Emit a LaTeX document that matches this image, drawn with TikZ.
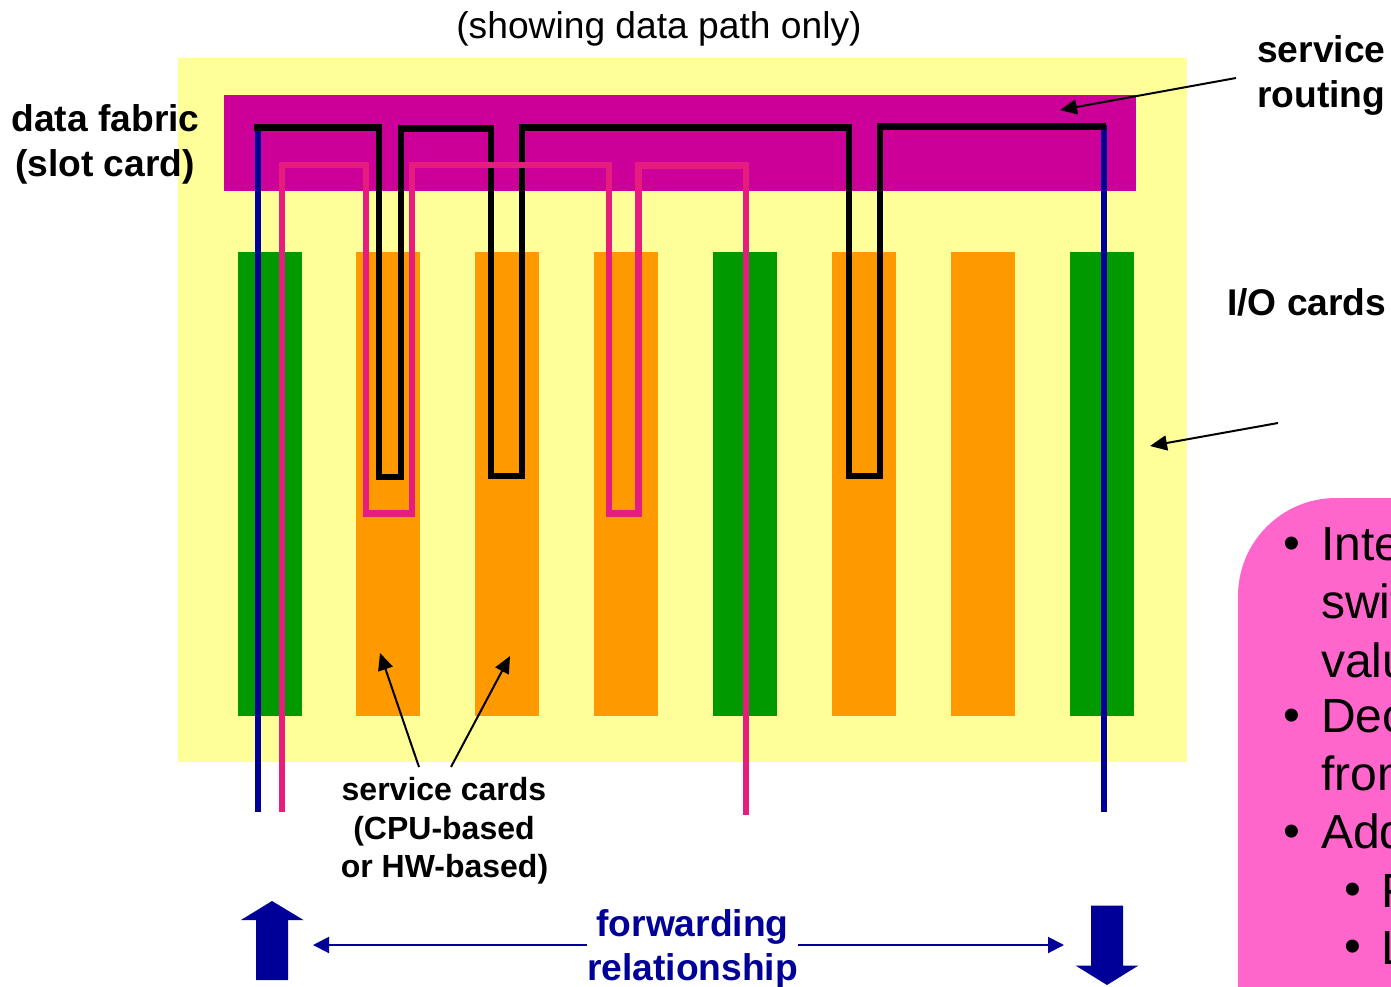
\documentclass[tikz,border=0pt]{standalone}
\usepackage{fontspec}
\setmainfont{Liberation Sans}
\usetikzlibrary{arrows.meta}
\definecolor{chassis}{HTML}{FFFF99}
\definecolor{fabric}{HTML}{CC0099}
\definecolor{iocard}{HTML}{009900}
\definecolor{svccard}{HTML}{FF9900}
\definecolor{navyline}{HTML}{000099}
\definecolor{rosepath}{HTML}{E61C7E}
\definecolor{notepink}{HTML}{FF66CC}
\tikzset{
  x=1pt,y=-1pt,
  cardbox/.style={minimum width=64pt,minimum height=464pt,inner sep=0pt,outer sep=0pt,draw=none},
  iobox/.style={cardbox,fill=iocard},
  svcbox/.style={cardbox,fill=svccard},
  bluewire/.style={navyline,line width=6.3pt},
  blackwire/.style={black,line width=6.5pt,line join=miter},
  rosewire/.style={rosepath,line width=6.3pt,line join=miter},
  pointer/.style={black,line width=2pt,-{Triangle[length=17pt,width=15pt]},shorten >=0pt},
  fwdline/.style={navyline,line width=2pt,-{Triangle[length=16pt,width=16pt]}},
  bigarrow/.style={fill=navyline,draw=none},
  labelbf/.style={font=\fontsize{37.2}{46}\selectfont\bfseries,inner sep=0pt,anchor=base},
  labelsvc/.style={font=\fontsize{32}{38}\selectfont\bfseries,inner sep=0pt,anchor=base},
  labelblue/.style={labelbf,text=navyline},
  notetext/.style={font=\fontsize{48}{57}\selectfont,inner sep=0pt,anchor=base west},
}
\begin{document}
\begin{tikzpicture}
\useasboundingbox (0,0) rectangle (1391,987);
\fill[white] (0,0) rectangle (1391,987);
% panels
\fill[chassis] (178,58) rectangle (1187,762);
\fill[fabric] (224,95) rectangle (1136,191);
% cards
\node[iobox,anchor=north west] (c1) at (238,252) {};
\node[svcbox,anchor=north west] (c2) at (356,252) {};
\node[svcbox,anchor=north west] (c3) at (475,252) {};
\node[svcbox,anchor=north west] (c4) at (594,252) {};
\node[iobox,anchor=north west] (c5) at (713,252) {};
\node[svcbox,anchor=north west] (c6) at (832,252) {};
\node[svcbox,anchor=north west] (c7) at (951,252) {};
\node[iobox,anchor=north west] (c8) at (1070,252) {};
% data paths
\coordinate (blueL) at (258,812);
\coordinate (blueR) at (1104,812);
\coordinate (roseA) at (282,812);
\coordinate (roseB) at (746,815);
\draw[bluewire] (blueL) -- (258,125);
\draw[bluewire] (blueR) -- (1104,125);
\draw[blackwire] (254,127.5) -- (379,127.5) -- (379,477) -- (401,477) -- (401,128.5) -- (491,128.5) -- (491,476) -- (522,476) -- (522,127.5) -- (849,127.5) -- (849,476) -- (880,476) -- (880,126.5) -- (1106,126.5);
\draw[rosewire] (roseA) -- (282,165) -- (366,165) -- (366,513.5) -- (412,513.5) -- (412,165) -- (609,165) -- (609,513.5) -- (638.5,513.5) -- (638.5,165.5) -- (746,165.5) -- (roseB);
% labels
\node[labelbf,font=\fontsize{37.2}{46}\selectfont] (title) at (659,39) {(showing data path only)};
\node[labelbf,anchor=base west] (routing1) at (1257,62.5) {service};
\node[labelbf,anchor=base west] (routing2) at (1257,107.5) {routing};
\node[labelbf] (fab1) at (105.5,131.5) {data fabric};
\node[labelbf] (fab2) at (105,177) {(slot card)};
\node[labelbf,anchor=base west] (io) at (1227,315) {I/O cards};
\node[labelsvc] (svc1) at (444,800) {service cards};
\node[labelsvc] (svc2) at (444,839) {(CPU-based};
\node[labelsvc] (svc3) at (444.5,877) {or HW-based)};
\node[labelblue] (fwd1) at (692.5,936) {forwarding};
\node[labelblue] (fwd2) at (692.5,980) {relationship};
% pointers
\coordinate (pa1) at (1236,78);
\coordinate (pa2) at (1060,110);
\coordinate (pb1) at (1278,423);
\coordinate (pb2) at (1150,446);
\coordinate (pc1) at (419,767);
\coordinate (pc2) at (380,653);
\coordinate (pd1) at (451,767);
\coordinate (pd2) at (510,656);
\draw[pointer] (pa1) -- (pa2);
\draw[pointer] (pb1) -- (pb2);
\draw[pointer] (pc1) -- (pc2);
\draw[pointer] (pd1) -- (pd2);
\coordinate (fl1) at (587,945);
\coordinate (fl2) at (313,945);
\coordinate (fr1) at (798,945);
\coordinate (fr2) at (1064,945);
\draw[fwdline] (fl1) -- (fl2);
\draw[fwdline] (fr1) -- (fr2);
% big arrows
\fill[bigarrow] (272,901) -- (303.5,920) -- (288,920) -- (288,980) -- (256,980) -- (256,920) -- (241,920) -- cycle;
\fill[bigarrow] (1091,905.5) -- (1123,905.5) -- (1123,965.5) -- (1138.5,965.5) -- (1107,985) -- (1075.5,965.5) -- (1091,965.5) -- cycle;
% note
\fill[notepink] (1391,498) -- (1336,498) arc[start angle=-90,end angle=-180,radius=98] -- (1238,987) -- (1391,987) -- cycle;
\node[notetext,anchor=center] (b1) at (1292,548) {•};
\node[notetext] (n1) at (1321,560) {Inte};
\node[notetext] (n2) at (1321,618) {swit};
\node[notetext] (n3) at (1321,677) {valu};
\node[notetext,anchor=center] (b2) at (1292,720) {•};
\node[notetext] (n4) at (1321,732) {Dec};
\node[notetext] (n5) at (1321,790) {fron};
\node[notetext,anchor=center] (b3) at (1292,836) {•};
\node[notetext] (n6) at (1321,848) {Add};
\node[notetext,anchor=center] (b4) at (1353,894) {•};
\node[notetext] (n7) at (1381,907) {F};
\node[notetext,anchor=center] (b5) at (1353,951) {•};
\node[notetext] (n8) at (1381,964) {L};
\end{tikzpicture}
\end{document}
